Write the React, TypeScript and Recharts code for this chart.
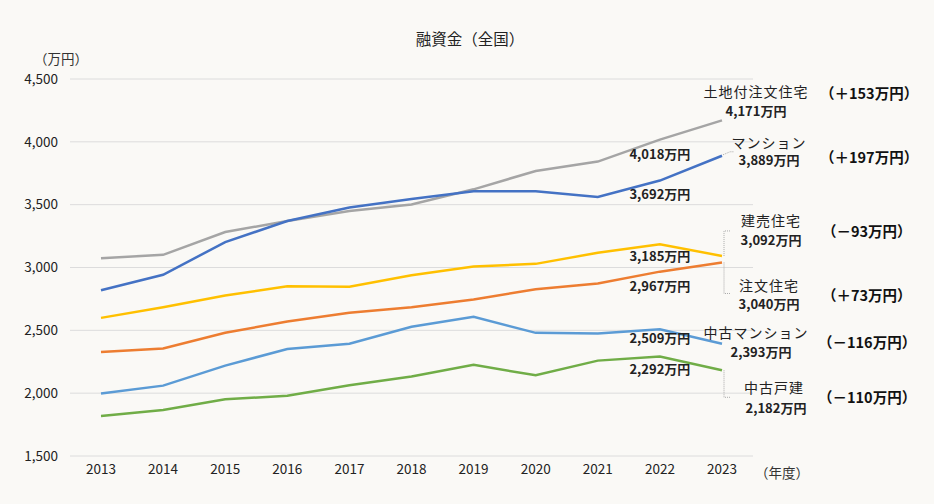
import { LineChart, Line, XAxis, YAxis, CartesianGrid } from 'recharts';

const years = ['2013', '2014', '2015', '2016', '2017', '2018', '2019', '2020', '2021', '2022', '2023'];

const tochiTsuki = [3074, 3101, 3282, 3370, 3449, 3502, 3622, 3768, 3843, 4018, 4171];
const mansion = [2819, 2942, 3202, 3370, 3478, 3545, 3606, 3606, 3561, 3692, 3889];
const tateuri = [2599, 2684, 2777, 2851, 2846, 2939, 3008, 3029, 3117, 3185, 3092];
const chumon = [2328, 2355, 2480, 2570, 2639, 2684, 2745, 2827, 2873, 2967, 3040];
const chukoMansion = [1998, 2060, 2219, 2352, 2394, 2528, 2607, 2480, 2474, 2509, 2393];
const chukoKodate = [1818, 1866, 1951, 1980, 2063, 2133, 2225, 2142, 2259, 2292, 2182];

const seriesNames = ['土地付注文住宅', 'マンション', '建売住宅', '注文住宅', '中古マンション', '中古戸建'];
const deltas = ['（＋153万円）', '（＋197万円）', '（－93万円）', '（＋73万円）', '（－116万円）', '（－110万円）'];
const yTicks = [1500, 2000, 2500, 3000, 3500, 4000, 4500];

const FONT = '"Noto Sans CJK JP", "Noto Sans", sans-serif';

type Leader = 'none' | 'short' | 'up' | 'down';

interface SeriesStyle {
  key: string;
  color: string;
  midDy: number;
  nameDx: number;
  valueDx: number;
  nameDy: number;
  valueDy: number;
  deltaDy: number;
  deltaX: number;
  leader: Leader;
  leaderEnd: number;
}

const styles: SeriesStyle[] = [
  { key: 'tochiTsuki', color: '#a5a5a5', midDy: 14, nameDx: 34, valueDx: 34, nameDy: -29, valueDy: -10, deltaDy: -28, deltaX: 820, leader: 'none', leaderEnd: 0 },
  { key: 'mansion', color: '#4472c4', midDy: 13, nameDx: 47, valueDx: 47, nameDy: -14, valueDy: 4, deltaDy: 1, deltaX: 820, leader: 'short', leaderEnd: -4 },
  { key: 'tateuri', color: '#ffc000', midDy: 11, nameDx: 49, valueDx: 49, nameDy: -36, valueDy: -16, deltaDy: -25, deltaX: 822, leader: 'up', leaderEnd: -25 },
  { key: 'chumon', color: '#ed7d31', midDy: 14, nameDx: 47, valueDx: 47, nameDy: 23, valueDy: 41, deltaDy: 32, deltaX: 822, leader: 'down', leaderEnd: 31 },
  { key: 'chukoMansion', color: '#5b9bd5', midDy: 8, nameDx: 34, valueDx: 39, nameDy: -12, valueDy: 8, deltaDy: -2, deltaX: 818, leader: 'none', leaderEnd: 0 },
  { key: 'chukoKodate', color: '#70ad47', midDy: 12, nameDx: 52, valueDx: 54, nameDy: 17, valueDy: 37, deltaDy: 26, deltaX: 818, leader: 'down', leaderEnd: 27 },
];

const seriesValues = [tochiTsuki, mansion, tateuri, chumon, chukoMansion, chukoKodate];

const data = years.map((year, i) => {
  const row: Record<string, string | number> = { year };
  styles.forEach((s, k) => {
    row[s.key] = seriesValues[k][i];
  });
  return row;
});

const fmtMan = (v: number) => `${v.toLocaleString('en-US')}万円`;

const makeDot = (s: SeriesStyle, idx: number) => (props: any) => {
  const { cx, cy, index, value } = props;
  const k = `${s.key}-dot-${index}`;
  if (index === years.length - 2) {
    return (
      <text key={k} x={cx} y={cy + s.midDy} textAnchor="middle" dominantBaseline="central"
        fontSize={13} fontWeight="bold" fill="#222" fontFamily={FONT}>
        {fmtMan(value)}
      </text>
    );
  }
  if (index === years.length - 1) {
    let leader = null;
    const lx = cx + 2;
    if (s.leader === 'short') {
      leader = <polyline points={`${cx + 1},${cy - 1} ${cx + 8},${cy + s.leaderEnd} ${cx + 12},${cy + s.leaderEnd}`}
        fill="none" stroke="#aaa" strokeWidth={1} strokeDasharray="1 1" />;
    } else if (s.leader === 'up' || s.leader === 'down') {
      leader = <polyline points={`${lx},${cy} ${lx},${cy + s.leaderEnd} ${lx + 6},${cy + s.leaderEnd}`}
        fill="none" stroke="#aaa" strokeWidth={1} strokeDasharray="1 1" />;
    }
    return (
      <g key={k} fontFamily={FONT}>
        {leader}
        <text x={cx + s.nameDx} y={cy + s.nameDy} textAnchor="middle" dominantBaseline="central"
          fontSize={14} fill="#222" letterSpacing={1}>
          {seriesNames[idx]}
        </text>
        <text x={cx + s.valueDx} y={cy + s.valueDy} textAnchor="middle" dominantBaseline="central"
          fontSize={13} fontWeight="bold" fill="#222">
          {fmtMan(value)}
        </text>
        <text x={s.deltaX} y={cy + s.deltaDy} textAnchor="start" dominantBaseline="central"
          fontSize={14.5} fontWeight="bold" fill="#111">
          {deltas[idx]}
        </text>
      </g>
    );
  }
  return <g key={k} />;
};

export default function App() {
  return (
    <div style={{ position: 'absolute', left: 0, top: 0, width: 934, height: 504, background: '#faf9f6', fontFamily: FONT, overflow: 'hidden' }}>
      <div style={{ position: 'absolute', left: 0, top: 27, width: 940, textAlign: 'center', fontSize: 15.5, color: '#222' }}>
        融資金（全国）
      </div>
      <div style={{ position: 'absolute', left: 34, top: 48, fontSize: 13.5, color: '#333' }}>（万円）</div>
      <div style={{ position: 'absolute', left: 755, top: 462, fontSize: 13.5, color: '#333' }}>（年度）</div>
      <LineChart width={934} height={504} data={data} margin={{ top: 79, right: 181, bottom: 18, left: 10 }}>
        <CartesianGrid vertical={false} stroke="#dcdcdc" />
        <XAxis dataKey="year" axisLine={false} tickLine={false} padding={{ left: 31, right: 31 }}
          tick={{ fontSize: 13.5, fill: '#222', fontFamily: FONT }} height={30} />
        <YAxis domain={[1500, 4500]} ticks={yTicks} axisLine={false} tickLine={false} width={60} tickMargin={6}
          tickFormatter={(v: number) => v.toLocaleString('en-US')}
          tick={{ fontSize: 13.5, fill: '#222', fontFamily: FONT }} />
        {styles.map((s, idx) => (
          <Line key={s.key} type="linear" dataKey={s.key} stroke={s.color} strokeWidth={2.5}
            dot={makeDot(s, idx)} activeDot={false} isAnimationActive={false} />
        ))}
      </LineChart>
    </div>
  );
}
